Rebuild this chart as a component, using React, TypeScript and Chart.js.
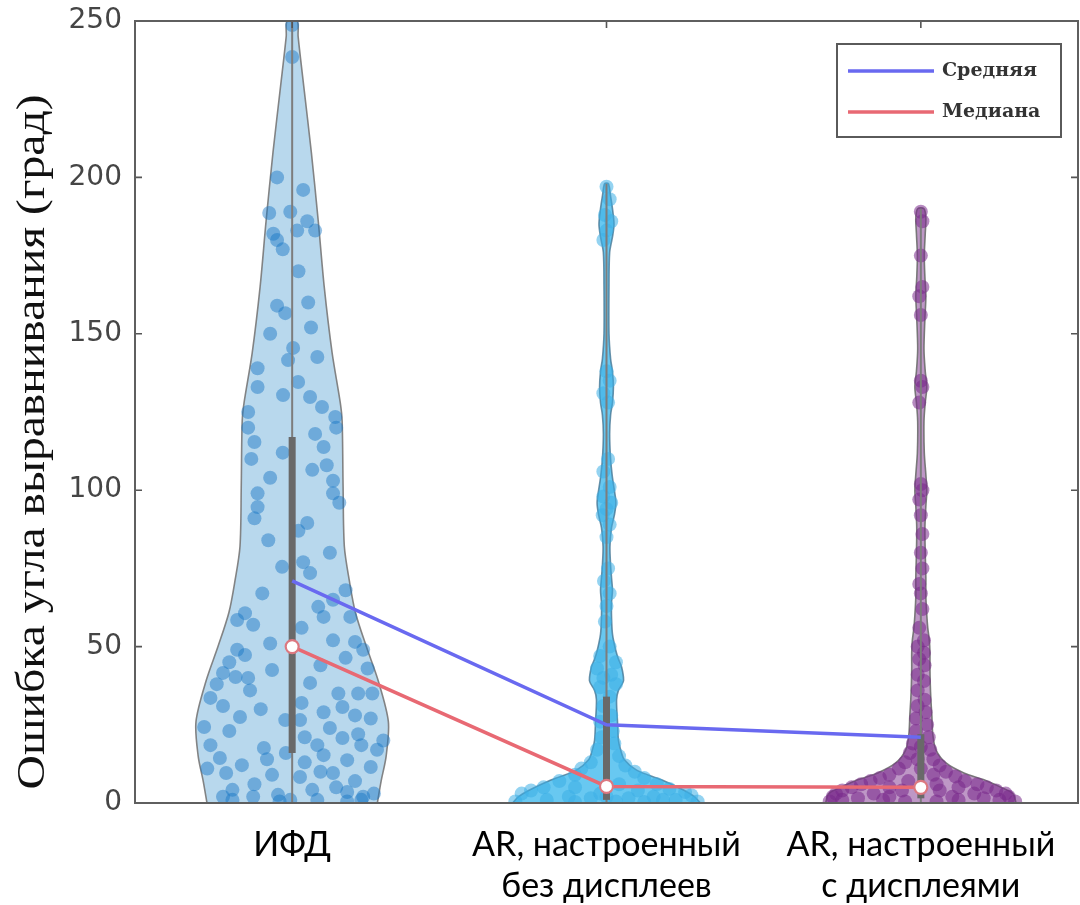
import React, { useEffect, useRef } from "react";
import { Chart, registerables } from "chart.js";

Chart.register(...registerables);

// ---------- data ----------
const CATEGORIES: string[][] = [
  ["ИФД"],
  ["AR, настроенный", "без дисплеев"],
  ["AR, настроенный", "с дисплеями"],
];
const Y_TICKS = [0, 50, 100, 150, 200, 250];
const Y_TITLE = "Ошибка угла выравнивания (град)";
const LEGEND_LABELS = ["Средняя", "Медиана"];

const MEAN_VALUES = [71, 25, 21];
const MEDIAN_VALUES = [50, 5.3, 5];
const WHISKER_LOW = [0, 0, 0];
const WHISKER_HIGH = [250, 198, 190];
const BOX_LOW = [16, 1, 1.5];
const BOX_HIGH = [117, 34, 22];

// violin outlines: value grid and half-width (category units)
const V1_Y = [0, 7, 15, 26, 39, 50, 61, 71, 82, 101, 122, 128, 144, 165, 186, 208, 229, 245, 250];
const V1_W = [0.271, 0.283, 0.299, 0.306, 0.274, 0.236, 0.201, 0.182, 0.166, 0.162, 0.159, 0.153, 0.127, 0.102, 0.083, 0.061, 0.037, 0.019, 0.016];

const V2_Y = [0, 2, 4, 7.4, 10.5, 13.8, 17, 20, 26, 33, 36, 39, 43.5, 46, 49, 54, 59.5, 64, 68, 72, 76, 82, 88, 92, 96, 100, 104, 110, 118, 124, 128, 133, 138, 142, 150, 165, 176, 181, 185, 190, 194, 198];
const V2_W = [0.299, 0.28, 0.248, 0.175, 0.096, 0.057, 0.045, 0.038, 0.035, 0.032, 0.038, 0.054, 0.048, 0.038, 0.029, 0.019, 0.016, 0.016, 0.019, 0.016, 0.013, 0.011, 0.016, 0.025, 0.03, 0.025, 0.019, 0.013, 0.01, 0.013, 0.019, 0.022, 0.019, 0.013, 0.008, 0.008, 0.01, 0.019, 0.024, 0.019, 0.013, 0.006];

const V3_Y = [0, 3, 5, 7.4, 9.6, 12.8, 17, 22, 28, 33, 38, 43, 48, 52, 56, 60, 66, 72, 80, 88, 95, 100, 105, 112, 122, 128, 133, 138, 145, 155, 162, 168, 175, 182, 187, 190];
const V3_W = [0.303, 0.293, 0.255, 0.201, 0.137, 0.08, 0.048, 0.038, 0.035, 0.032, 0.03, 0.029, 0.029, 0.027, 0.022, 0.019, 0.016, 0.016, 0.014, 0.013, 0.016, 0.019, 0.016, 0.011, 0.01, 0.014, 0.019, 0.014, 0.01, 0.013, 0.016, 0.013, 0.011, 0.014, 0.016, 0.01];

// individual observations: value and horizontal jitter (category units)
const G1_Y = [248.7, 238.5, 200, 196, 188.6, 189, 186, 183, 180, 177, 183, 182, 159, 156.6, 160, 145.5, 141.6, 142.6, 139, 133, 130.4, 134.6, 129.8, 126.6, 125, 123.4, 120, 115.4, 112, 118, 113.8, 120, 104, 99, 94.6, 91, 106.5, 103, 99, 89.5, 84, 75.5, 77, 73.5, 67, 68, 62.7, 59.5, 59.5, 60.7, 58.5, 57, 51, 49, 47.3, 51.5, 49, 46.4, 42.5, 41.6, 40.3, 40, 36, 38.4, 35, 35, 35, 33.6, 30.7, 27.5, 27, 26.5, 26.5, 24.3, 20, 20.8, 21, 18.5, 18.5, 18.5, 17.6, 14.4, 12.1, 15.3, 13.7, 11.5, 9.6, 9, 8.3, 9.6, 4.2, 2, 2.6, 1, 4.2, 3.5, 2, 1, 0.5, 1, 0.5, 1, 96, 110, 108, 87, 80, 65, 56, 44, 43, 38, 32, 30, 29, 23, 22, 16, 13, 11, 7, 6, 5, 3, 2, 24, 31, 52, 17, 45, 28, 10, 14, 170, 152, 150];
const G1_X = [0, 0, -0.048, 0.035, -0.073, -0.006, 0.048, 0.073, -0.048, -0.03, 0.016, -0.06, -0.048, -0.022, 0.051, 0.003, -0.013, 0.08, -0.11, -0.11, -0.029, 0.019, 0.057, 0.095, -0.14, 0.137, -0.14, -0.12, -0.03, 0.073, 0.1, 0.14, -0.07, -0.11, -0.11, -0.12, 0.064, 0.13, 0.13, 0.048, -0.076, -0.032, 0.035, 0.057, -0.095, 0.17, 0.083, 0.1, 0.185, -0.15, -0.175, -0.124, -0.07, -0.175, -0.15, 0.2, 0.226, 0.17, -0.064, -0.22, -0.18, -0.14, -0.134, 0.057, 0.147, 0.21, 0.255, -0.26, 0.16, -0.166, 0.25, -0.022, 0.025, -0.28, 0.29, 0.16, 0.04, 0.08, 0.22, -0.26, -0.09, -0.23, -0.16, 0.1, 0.175, 0.25, -0.21, -0.064, 0.025, 0.13, -0.19, -0.124, -0.045, -0.006, 0.064, 0.175, 0.226, -0.19, -0.04, 0.08, 0.175, 0.22, 0.15, -0.13, 0.11, 0.02, 0.12, 0.13, 0.03, 0.09, 0.24, -0.24, 0.03, -0.1, 0.1, -0.2, 0.21, -0.02, 0.04, -0.27, 0.2, -0.12, 0.14, 0.26, -0.22, 0.12, -0.22, 0.13, 0.27, -0.2, 0.2, 0.09, -0.08, 0.02, 0.06, -0.07];

const G2_Y = [197, 193, 188, 186, 183, 180, 138, 135, 131, 128, 110, 106, 101, 98, 96, 94, 92, 89, 85, 75, 71, 67, 63, 58, 50, 47, 45, 43, 41, 40, 38, 37, 34, 31, 28, 26, 23, 21, 19, 17, 15, 13, 12, 11, 10, 9, 8, 7, 6, 5, 4.5, 4, 3.5, 3, 2.5, 2, 2, 1.5, 1.5, 1, 1, 0.5, 0.5, 0.5, 0.3, 0.3, 3, 6, 4, 5, 2, 1];
const G2_X = [0, 0.01, -0.005, 0.015, 0, -0.01, 0, 0.01, -0.01, 0.005, 0.005, -0.01, 0.01, -0.01, 0.015, 0, -0.012, 0.01, 0, 0.005, -0.008, 0.01, 0, -0.005, 0.01, -0.02, 0.03, -0.03, 0.015, -0.01, 0.03, -0.02, 0.01, -0.01, 0.015, -0.02, 0.02, -0.015, 0.025, -0.03, 0.04, -0.05, 0.06, -0.08, 0.09, -0.1, 0.12, -0.15, 0.16, -0.2, 0.2, -0.24, 0.25, -0.27, 0.27, -0.12, 0.15, -0.05, 0.07, -0.19, 0.22, -0.29, 0.29, 0.03, -0.1, 0.12, -0.02, 0.04, 0.1, -0.1, 0, 0.18];

const G3_Y = [189, 186, 175, 165, 162, 156, 135, 133, 128, 102, 100, 97, 92, 86, 80, 75, 70, 67, 62, 56, 52, 50, 48, 46, 44, 41, 39, 36, 33, 31, 29, 27, 25, 23, 21, 19, 17, 16, 14, 13, 12, 11, 10, 9, 8.5, 8, 7, 7, 6, 6, 5, 5, 4, 4, 3, 3, 2, 2, 1.5, 1.5, 1, 1, 0.5, 0.5, 1, 1, 2, 2, 3, 3, 4, 4, 5, 5, 0.5, 0.5, 6, 7, 9, 11, 14, 18];
const G3_X = [0, 0.005, 0, 0.005, -0.005, 0, 0, 0.005, -0.005, 0, 0.005, -0.005, 0, 0.005, 0, 0.005, -0.005, 0, 0.005, -0.005, 0.01, -0.01, 0.01, -0.005, 0.012, -0.01, 0.01, -0.01, 0.012, -0.01, 0.015, -0.015, 0.02, -0.015, 0.025, -0.025, 0.03, -0.035, 0.04, -0.05, 0.06, -0.07, 0.08, -0.1, 0.11, -0.13, 0.14, -0.16, 0.18, -0.19, 0.21, -0.22, 0.24, -0.25, 0.27, -0.27, 0.28, -0.28, 0.2, -0.2, 0.12, -0.12, 0.05, -0.05, 0.25, -0.25, 0.1, -0.1, 0.17, -0.15, 0.06, -0.06, 0.12, -0.1, 0.3, -0.29, 0.05, -0.04, 0.04, 0, -0.01, 0];

// ---------- helpers ----------
const VIOLINS = [
  { ys: V1_Y, ws: V1_W, fill: "rgba(0,114,189,0.28)", edge: "rgba(120,120,120,0.9)" },
  { ys: V2_Y, ws: V2_W, fill: "rgba(77,190,238,0.85)", edge: "rgba(70,120,150,0.8)" },
  { ys: V3_Y, ws: V3_W, fill: "rgba(126,47,142,0.5)", edge: "rgba(110,110,110,0.9)" },
];
const GROUPS = [
  { ys: G1_Y, xs: G1_X, color: "rgba(20,115,195,0.45)" },
  { ys: G2_Y, xs: G2_X, color: "rgba(60,175,230,0.55)" },
  { ys: G3_Y, xs: G3_X, color: "rgba(120,40,138,0.55)" },
];

function violinPolygon(center: number, ys: number[], ws: number[]) {
  const right = ys.map((y, i) => ({ x: center + ws[i], y }));
  const left = ys.map((y, i) => ({ x: center - ws[i], y })).reverse();
  return [...right, ...left];
}

const MEAN_COLOR = "rgb(105,105,240)";
const MEDIAN_COLOR = "rgb(232,105,115)";

const framePlugin = {
  id: "frame",
  afterDraw(chart: any) {
    const { ctx, chartArea, scales } = chart;
    const { left, right, top, bottom } = chartArea;
    const x = scales.x;
    const y = scales.y;
    ctx.save();
    // ticks pointing inward
    ctx.strokeStyle = "rgb(85,85,85)";
    ctx.lineWidth = 1.6;
    ctx.beginPath();
    Y_TICKS.forEach((v) => {
      const py = y.getPixelForValue(v);
      ctx.moveTo(left, py);
      ctx.lineTo(left + 7, py);
      ctx.moveTo(right, py);
      ctx.lineTo(right - 7, py);
    });
    CATEGORIES.forEach((_, i) => {
      const px = x.getPixelForValue(i + 1);
      ctx.moveTo(px, top);
      ctx.lineTo(px, top + 7);
    });
    ctx.stroke();
    // box
    ctx.lineWidth = 2;
    ctx.strokeStyle = "rgb(95,95,95)";
    ctx.strokeRect(left, top, right - left, bottom - top);

    // y title
    const fam = "'Liberation Serif', 'DejaVu Serif', serif";
    ctx.font = `39px ${fam}`;
    const w = ctx.measureText(Y_TITLE).width;
    ctx.fillStyle = "#111";
    ctx.textAlign = "center";
    ctx.textBaseline = "alphabetic";
    ctx.translate(44, 442);
    ctx.rotate(-Math.PI / 2);
    ctx.scale(695 / w, 1);
    ctx.fillText(Y_TITLE, 0, 0);
    ctx.restore();

    // legend
    ctx.save();
    const lx = 837, ly = 44, lw = 224, lh = 93;
    ctx.fillStyle = "#fff";
    ctx.fillRect(lx, ly, lw, lh);
    ctx.strokeStyle = "rgb(90,90,90)";
    ctx.lineWidth = 2;
    ctx.strokeRect(lx, ly, lw, lh);
    const colors = [MEAN_COLOR, MEDIAN_COLOR];
    const rows = [71, 112];
    ctx.font = "bold 19px 'DejaVu Serif', serif";
    ctx.textAlign = "left";
    ctx.textBaseline = "middle";
    LEGEND_LABELS.forEach((lab, i) => {
      ctx.strokeStyle = colors[i];
      ctx.lineWidth = 3.5;
      ctx.beginPath();
      ctx.moveTo(848, rows[i]);
      ctx.lineTo(934, rows[i]);
      ctx.stroke();
      ctx.fillStyle = "#333";
      ctx.fillText(lab, 942, rows[i]);
    });
    ctx.restore();
  },
};

export default function App() {
  const ref = useRef<HTMLCanvasElement>(null);
  useEffect(() => {
    document.body.style.margin = "0";
    const canvas = ref.current!;
    const datasets: any[] = [];

    datasets.push({
      data: MEDIAN_VALUES.map((v, i) => ({ x: i + 1, y: v })),
      pointRadius: 6.5,
      pointBackgroundColor: "#fff",
      pointBorderColor: "rgb(220,120,128)",
      pointBorderWidth: 2.2,
      showLine: false,
      order: 0,
    });
    datasets.push({
      label: LEGEND_LABELS[0],
      data: MEAN_VALUES.map((v, i) => ({ x: i + 1, y: v })),
      showLine: true,
      borderColor: MEAN_COLOR,
      borderWidth: 3.5,
      pointRadius: 0,
      order: 1,
    });
    datasets.push({
      label: LEGEND_LABELS[1],
      data: MEDIAN_VALUES.map((v, i) => ({ x: i + 1, y: v })),
      showLine: true,
      borderColor: MEDIAN_COLOR,
      borderWidth: 3.5,
      pointRadius: 0,
      order: 1,
    });
    CATEGORIES.forEach((_, i) => {
      datasets.push({
        data: [{ x: i + 1, y: BOX_LOW[i] }, { x: i + 1, y: BOX_HIGH[i] }],
        showLine: true,
        borderColor: "rgb(105,105,105)",
        borderWidth: 7,
        pointRadius: 0,
        order: 2,
      });
      datasets.push({
        data: [{ x: i + 1, y: WHISKER_LOW[i] }, { x: i + 1, y: WHISKER_HIGH[i] }],
        showLine: true,
        borderColor: "rgb(125,125,125)",
        borderWidth: 2,
        pointRadius: 0,
        order: 3,
      });
    });
    GROUPS.forEach((g, i) => {
      datasets.push({
        data: g.ys.map((v, k) => ({ x: i + 1 + g.xs[k], y: v })),
        showLine: false,
        pointRadius: 7,
        pointBackgroundColor: g.color,
        pointBorderWidth: 0,
        pointBorderColor: "rgba(0,0,0,0)",
        order: 4,
      });
    });
    VIOLINS.forEach((v, i) => {
      datasets.push({
        data: violinPolygon(i + 1, v.ys, v.ws),
        showLine: true,
        fill: "shape",
        backgroundColor: v.fill,
        borderColor: v.edge,
        borderWidth: 1.6,
        tension: 0.3,
        pointRadius: 0,
        order: 5,
      });
    });

    const chart = new Chart(canvas, {
      type: "scatter",
      data: { datasets },
      options: {
        animation: false,
        responsive: false,
        devicePixelRatio: 1,
        layout: { autoPadding: false, padding: { top: 21, right: 2, left: 0, bottom: 0 } },
        plugins: { legend: { display: false }, tooltip: { enabled: false } },
        scales: {
          x: {
            type: "linear",
            min: 0.5,
            max: 3.5,
            grid: { display: false, drawTicks: false },
            border: { display: false },
            afterBuildTicks: (axis: any) => {
              axis.ticks = CATEGORIES.map((_, i) => ({ value: i + 1 }));
            },
            afterFit: (scale: any) => {
              scale.height = 102;
              scale.paddingLeft = 0;
              scale.paddingRight = 0;
            },
            ticks: {
              autoSkip: false,
              maxRotation: 0,
              padding: 22,
              color: "#000",
              font: { family: "Lato, 'Open Sans', sans-serif", size: 34 },
              callback: (value: any) => CATEGORIES[Math.round(value) - 1] as any,
            },
          },
          y: {
            min: 0,
            max: 250,
            grid: { display: false, drawTicks: false },
            border: { display: false },
            afterBuildTicks: (axis: any) => {
              axis.ticks = Y_TICKS.map((v) => ({ value: v }));
            },
            afterFit: (scale: any) => {
              scale.width = 135;
              scale.paddingTop = 0;
              scale.paddingBottom = 0;
            },
            ticks: {
              padding: 13,
              color: "#454545",
              font: { family: "'DejaVu Sans', sans-serif", size: 28 },
            },
          },
        },
      },
      plugins: [framePlugin],
    } as any);
    return () => chart.destroy();
  }, []);
  return (
    <canvas
      ref={ref}
      width={1080}
      height={905}
      style={{ display: "block", width: 1080, height: 905 }}
    />
  );
}
